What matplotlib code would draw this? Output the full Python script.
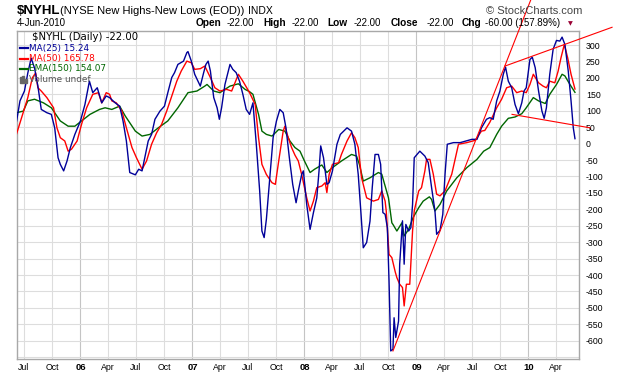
import matplotlib
matplotlib.use("Agg")
import matplotlib.pyplot as plt
from matplotlib.patches import Rectangle

plt.rcParams["axes.unicode_minus"] = False

W, H = 620, 376

# time axis in decimal years
ma25_t = [2005.43, 2005.46, 2005.50, 2005.53, 2005.56, 2005.59, 2005.62, 2005.65, 2005.70, 2005.74,
          2005.77, 2005.80, 2005.82, 2005.85, 2005.88, 2005.91, 2005.95, 2006.00, 2006.04, 2006.08,
          2006.11, 2006.15, 2006.19, 2006.23, 2006.26, 2006.31, 2006.35, 2006.38, 2006.41, 2006.44,
          2006.49, 2006.52, 2006.55, 2006.58, 2006.605, 2006.635, 2006.665, 2006.71, 2006.75, 2006.78,
          2006.815, 2006.84, 2006.87, 2006.92, 2006.95, 2006.96, 2006.99, 2007.02, 2007.07, 2007.10,
          2007.12, 2007.14, 2007.16, 2007.19, 2007.22, 2007.24, 2007.26, 2007.29, 2007.335, 2007.36,
          2007.39, 2007.42, 2007.45, 2007.48, 2007.51, 2007.54, 2007.57, 2007.60, 2007.62, 2007.64,
          2007.66, 2007.69, 2007.72, 2007.75, 2007.78, 2007.81, 2007.835, 2007.865, 2007.895, 2007.925,
          2007.945, 2007.975, 2007.99, 2008.02, 2008.05, 2008.08, 2008.11, 2008.13, 2008.145, 2008.17,
          2008.20, 2008.22, 2008.25, 2008.29, 2008.32, 2008.38, 2008.42, 2008.45, 2008.48, 2008.505,
          2008.525, 2008.555, 2008.585, 2008.605, 2008.63, 2008.66, 2008.68, 2008.70, 2008.72, 2008.74,
          2008.755, 2008.77, 2008.79, 2008.80, 2008.815, 2008.84, 2008.85, 2008.875, 2008.89, 2008.905,
          2008.93, 2008.95, 2008.965, 2008.98, 2009.03, 2009.075, 2009.105, 2009.135, 2009.165, 2009.18,
          2009.21, 2009.235, 2009.255, 2009.275, 2009.33, 2009.39, 2009.495, 2009.54, 2009.58, 2009.625,
          2009.655, 2009.685, 2009.716, 2009.745, 2009.775, 2009.795, 2009.82, 2009.85, 2009.88, 2009.91,
          2009.94, 2009.96, 2009.98, 2010.013, 2010.034, 2010.06, 2010.09, 2010.12, 2010.14, 2010.16,
          2010.19, 2010.22, 2010.25, 2010.28, 2010.30, 2010.325, 2010.355, 2010.38, 2010.40, 2010.415]
ma25_v = [69, 130, 160, 215, 260, 230, 175, 104, 94, 89,
          48, -43, -63, -83, -53, -12, 28, 69, 119, 190,
          155, 170, 124, 145, 140, 124, 114, 69, 8, -88,
          -95, -78, -83, -33, 8, 28, 74, 99, 114, 155,
          201, 216, 241, 251, 277, 280, 251, 211, 175, 216,
          241, 251, 221, 140, 109, 74, 109, 180, 241, 226,
          216, 190, 150, 104, 89, 124, -2, -144, -266, -286,
          -230, -104, 18, 69, 104, 94, 48, -43, -124, -180,
          -144, -94, -83, -185, -261, -210, -165, -83, -7, -43,
          -124, -119, -83, -2, 28, 48, 38, -2, -94, -215,
          -317, -301, -236, -134, -33, -33, -63, -210, -215, -256,
          -418, -631, -626, -530, -590, -540, -367, -235, -367, -246,
          -266, -256, -185, -43, -23, -38, -58, -134, -205, -276,
          -264, -215, -93, -2, 3, 3, 13, 13, 48, 74,
          79, 74, 130, 160, 211, 233, 190, 170, 119, 91,
          124, 160, 170, 256, 263, 231, 160, 99, 77, 109,
          211, 287, 314, 312, 324, 302, 221, 130, 48, 15]

ma50_t = [2005.43, 2005.475, 2005.53, 2005.57, 2005.60, 2005.62, 2005.65, 2005.70, 2005.76, 2005.79,
          2005.82, 2005.86, 2005.89, 2005.92, 2005.97, 2006.01, 2006.055, 2006.11, 2006.16, 2006.19,
          2006.23, 2006.26, 2006.28, 2006.32, 2006.37, 2006.41, 2006.46, 2006.50, 2006.55, 2006.59,
          2006.635, 2006.68, 2006.725, 2006.77, 2006.815, 2006.86, 2006.90, 2006.95, 2006.99, 2007.02,
          2007.07, 2007.11, 2007.16, 2007.20, 2007.245, 2007.305, 2007.35, 2007.41, 2007.45, 2007.51,
          2007.56, 2007.59, 2007.62, 2007.66, 2007.71, 2007.74, 2007.77, 2007.81, 2007.825, 2007.855,
          2007.885, 2007.915, 2007.945, 2007.975, 2008.02, 2008.05, 2008.08, 2008.11, 2008.155, 2008.185,
          2008.20, 2008.22, 2008.25, 2008.305, 2008.33, 2008.38, 2008.42, 2008.45, 2008.48, 2008.51,
          2008.555, 2008.615, 2008.66, 2008.69, 2008.72, 2008.73, 2008.755, 2008.78, 2008.81, 2008.825,
          2008.85, 2008.875, 2008.89, 2008.91, 2008.94, 2008.965, 2008.98, 2009.02, 2009.045, 2009.075,
          2009.09, 2009.12, 2009.15, 2009.18, 2009.21, 2009.255, 2009.315, 2009.375, 2009.45, 2009.525,
          2009.58, 2009.61, 2009.655, 2009.716, 2009.76, 2009.805, 2009.85, 2009.895, 2009.94, 2009.98,
          2010.013, 2010.043, 2010.09, 2010.13, 2010.16, 2010.19, 2010.235, 2010.265, 2010.29, 2010.32,
          2010.35, 2010.38, 2010.415]
ma50_v = [30, 79, 140, 200, 215, 170, 160, 140, 109, 48,
          18, 8, -23, -17, 8, 59, 109, 150, 155, 124,
          155, 150, 130, 124, 99, 48, -12, -43, -78, -53,
          -2, 33, 59, 99, 145, 190, 221, 251, 246, 226,
          228, 236, 201, 170, 160, 165, 160, 211, 190, 155,
          119, 18, -63, -94, -119, -124, -53, 38, 53, 18,
          -12, -35, -53, -94, -165, -205, -175, -134, -129, -119,
          -149, -94, -63, -58, -33, 8, 33, 18, -12, -104,
          -165, -175, -170, -144, -175, -205, -337, -347, -390, -408,
          -428, -438, -494, -428, -428, -266, -205, -144, -134, -83,
          -48, -48, -93, -154, -159, -144, -93, -2, 3, 10,
          38, 40, 65, 109, 135, 170, 175, 155, 160, 155,
          180, 211, 185, 175, 170, 190, 185, 221, 261, 302,
          261, 211, 166]

ema150_t = [2005.43, 2005.49, 2005.53, 2005.59, 2005.67, 2005.74, 2005.82, 2005.89, 2005.95, 2006.01,
            2006.085, 2006.17, 2006.22, 2006.28, 2006.35, 2006.40, 2006.49, 2006.55, 2006.62, 2006.695,
            2006.78, 2006.87, 2006.96, 2007.04, 2007.11, 2007.13, 2007.19, 2007.245, 2007.335, 2007.41,
            2007.47, 2007.51, 2007.54, 2007.59, 2007.62, 2007.66, 2007.71, 2007.77, 2007.825, 2007.87,
            2007.915, 2007.96, 2008.00, 2008.05, 2008.09, 2008.155, 2008.20, 2008.25, 2008.33, 2008.42,
            2008.465, 2008.49, 2008.525, 2008.585, 2008.66, 2008.69, 2008.72, 2008.75, 2008.78, 2008.79,
            2008.825, 2008.87, 2008.89, 2008.93, 2008.97, 2009.02, 2009.06, 2009.115, 2009.135, 2009.165,
            2009.21, 2009.27, 2009.36, 2009.45, 2009.54, 2009.60, 2009.655, 2009.716, 2009.76, 2009.82,
            2009.88, 2009.94, 2009.98, 2010.043, 2010.09, 2010.15, 2010.19, 2010.25, 2010.30, 2010.325,
            2010.37, 2010.415]
ema150_v = [94, 99, 130, 135, 124, 109, 69, 53, 53, 69,
            89, 104, 109, 104, 114, 84, 38, 23, 28, 48,
            69, 109, 155, 160, 175, 180, 160, 155, 175, 182,
            165, 158, 150, 89, 38, 28, 23, 43, 38, 8,
            -12, -23, -53, -88, -78, -65, -88, -73, -53, -33,
            -38, -63, -114, -104, -88, -93, -129, -165, -241, -246,
            -266, -241, -281, -261, -225, -195, -175, -162, -170, -205,
            -185, -144, -104, -73, -48, -23, -12, 28, 53, 77,
            81, 91, 109, 140, 130, 122, 150, 180, 211, 206,
            180, 156]

# hand-drawn trend lines (start, end)
rise_t, rise_v = [2008.79, 2010.02], [-631, 437]
upper_t, upper_v = [2009.79, 2010.746], [236, 354]
lower_t, lower_v = [2009.853, 2010.549], [89, 48]

x_labels = ["Jul", "Oct", "06", "Apr", "Jul", "Oct", "07", "Apr", "Jul", "Oct", "08", "Apr",
            "Jul", "Oct", "09", "Apr", "Jul", "Oct", "10", "Apr"]
x_ticks = [2005.496, 2005.748, 2006.0, 2006.247, 2006.496, 2006.748, 2007.0, 2007.247, 2007.496,
           2007.748, 2008.0, 2008.247, 2008.496, 2008.748, 2009.0, 2009.247, 2009.496, 2009.748,
           2010.0, 2010.247]
y_ticks = list(range(-650, 301, 50))

BLUE = "#000099"
RED = "#ff0000"
GREEN = "#006600"


def fx(x):
    return x / W


def fy(y):
    return 1 - y / H


fig = plt.figure(figsize=(W / 100, H / 100), dpi=100)
fig.patch.set_facecolor("white")
ax = fig.add_axes([fx(16.5), fy(359), (579 - 16.5) / W, (359 - 30.7) / H])

ax.plot(ema150_t, ema150_v, color=GREEN, lw=1.0, zorder=3)
ax.plot(ma50_t, ma50_v, color=RED, lw=1.0, zorder=4)
ax.plot(ma25_t, ma25_v, color=BLUE, lw=1.0, zorder=5)
for tt, vv in [(rise_t, rise_v), (upper_t, upper_v), (lower_t, lower_v)]:
    ax.plot(tt, vv, color=RED, lw=0.8, clip_on=False, zorder=6)

ax.set_xlim(2005.429, 2010.451)
ax.set_ylim(-655.5, 343.6)

ax.yaxis.tick_right()
ax.set_yticks(y_ticks)
ax.set_yticklabels(["" if v == -650 else str(v) for v in y_ticks],
                   fontfamily="Liberation Sans", fontsize=6.3)
ax.set_xticks(x_ticks)
ax.set_xticklabels(x_labels, fontfamily="Liberation Sans", fontsize=6.3)
for lbl in ax.get_xticklabels():
    if lbl.get_text().isdigit():
        lbl.set_fontweight("bold")
        lbl.set_fontsize(6.8)
ax.tick_params(axis="y", length=0, pad=5)
ax.tick_params(axis="x", length=0, pad=3)

ax.grid(True, color="#dddddd", lw=0.8)
for lbl, gl in zip(x_labels, ax.xaxis.get_gridlines()):
    if lbl.isdigit():
        gl.set_color("#c4c4c4")
ax.set_axisbelow(True)
for sp in ax.spines.values():
    sp.set_color("#a8a8a8")
    sp.set_linewidth(1.0)

# header
fig.text(fx(16.5), fy(11), r"\$NYHL", fontfamily="Liberation Sans", fontsize=9.5,
         fontweight="bold", va="center")
fig.text(fx(60.4), fy(11.5), "(NYSE New Highs-New Lows (EOD))", fontfamily="Liberation Sans",
         fontsize=8, va="center")
fig.text(fx(248), fy(11.5), "INDX", fontfamily="Liberation Sans", fontsize=7.5, va="center")
fig.text(fx(582), fy(11), "\u00a9 StockCharts.com", fontfamily="Liberation Sans", fontsize=8,
         color="#444444", ha="right", va="center")
fig.text(fx(16.5), fy(23.5), "4-Jun-2010", fontfamily="Liberation Sans", fontsize=7, va="center")
quote = [("Open", 196, "-22.00", 226.5), ("High", 263.5, "-22.00", 291.3),
         ("Low", 327, "-22.00", 353.7), ("Close", 390.7, "-22.00", 426.5),
         ("Chg", 462, "-60.00 (157.89%)", 485)]
for name, xn, val, xv in quote:
    fig.text(fx(xn), fy(23.5), name, fontfamily="Liberation Sans", fontsize=7.3,
             fontweight="bold", va="center")
    fig.text(fx(xv), fy(23.5), val, fontfamily="Liberation Sans", fontsize=7, va="center")
fig.text(fx(568), fy(23.5), "\u25bc", fontfamily="DejaVu Sans", fontsize=4.5,
         color="#990033", va="center")

# legend in the plot
fig.text(fx(31.7), fy(36.7), r"\$NYHL (Daily) -22.00", fontfamily="DejaVu Sans", fontsize=7.3,
         va="center")
legend_rows = [("MA(25) 15.24", BLUE, 48.3), ("MA(50) 165.78", RED, 58.6),
               ("EMA(150) 154.07", GREEN, 69.0)]
for txt, col, yy in legend_rows:
    fig.add_artist(plt.Line2D([fx(20), fx(28)], [fy(yy), fy(yy)], color=col, lw=1.6,
                              transform=fig.transFigure))
    fig.text(fx(29.3), fy(yy), txt, fontfamily="DejaVu Sans", fontsize=6.4, color=col,
             va="center")
for bx, bh in [(19.8, 5), (22.3, 7), (24.8, 4)]:
    fig.add_artist(Rectangle((fx(bx), fy(82.5)), 2 / W, bh / H, color="#666666",
                             transform=fig.transFigure))
fig.text(fx(29.3), fy(79.3), "Volume undef", fontfamily="DejaVu Sans", fontsize=6.4,
         color="#555555", va="center")

fig.savefig("out.png", dpi=100, facecolor="white")
